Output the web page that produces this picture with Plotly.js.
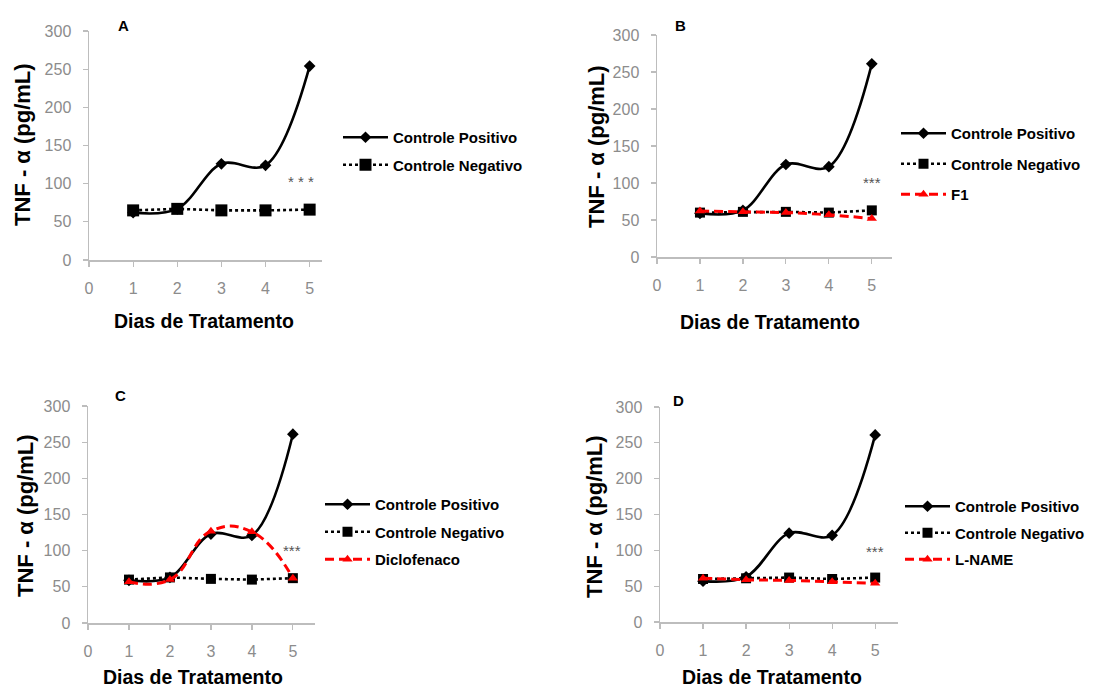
<!DOCTYPE html>
<html>
<head>
<meta charset="utf-8">
<script src="https://cdn.plot.ly/plotly-3.0.1.min.js"></script>
<style>
  html, body { margin: 0; padding: 0; background: #fff; }
  #chart { width: 1115px; height: 689px; }
</style>
</head>
<body>
<div id="chart"></div>
<script>
// TNF-alpha (pg/mL) over treatment days, four panels
const dias = [1, 2, 3, 4, 5];
const xTicks = [0, 1, 2, 3, 4, 5];
const yTicks = [0, 50, 100, 150, 200, 250, 300];

const positivoA = [62, 67, 126, 124, 254];
const negativoA = [65, 67, 65, 65, 66];

const positivoB = [59, 63, 125, 122, 261];
const negativoB = [60, 61, 61, 60, 63];
const f1 = [62, 61, 60, 57, 52];

const positivoC = [59, 63, 123, 121, 261];
const negativoC = [60, 63, 61, 60, 62];
const diclofenaco = [57, 60, 127, 126, 62];

const positivoD = [57, 63, 124, 121, 261];
const negativoD = [60, 61, 62, 60, 62];
const lname = [61, 59, 58, 56, 54];

const panelLetters = ['A', 'B', 'C', 'D'];
const yTitle = 'TNF - \u03b1 (pg/mL)';
const xTitle = 'Dias de Tratamento';
const signif = ['* * *', '***', '***', '***'];

const W = 1115, H = 689;
const px = v => v / W;
const py = v => 1 - v / H;

const tickFont = { family: 'Liberation Sans, Arial, sans-serif', size: 16, color: '#8c8c8c' };
const legendFont = { family: 'Liberation Sans, Arial, sans-serif', size: 15, color: '#000', weight: 'bold' };
const xTitleFont = { family: 'Liberation Sans, Arial, sans-serif', size: 19.5, color: '#000', weight: 'bold' };
const yTitleFont = { family: 'Liberation Sans, Arial, sans-serif', size: 22, color: '#000', weight: 'bold' };

function positivo(y, i) {
  return {
    x: dias, y: y, name: 'Controle Positivo', type: 'scatter', mode: 'lines+markers',
    line: { color: '#000', width: 2.6, shape: 'spline', smoothing: 1 },
    marker: { symbol: 'diamond', size: 9, color: '#000' },
    xaxis: 'x' + (i ? i + 1 : ''), yaxis: 'y' + (i ? i + 1 : ''),
    legend: 'legend' + (i ? i + 1 : ''), legendgroup: 'p' + i
  };
}
function negativo(y, i, msize) {
  return {
    x: dias, y: y, name: 'Controle Negativo', type: 'scatter', mode: 'lines+markers',
    line: { color: '#000', width: 2.6, dash: 'dot' },
    marker: { symbol: 'square', size: msize, color: '#000' },
    xaxis: 'x' + (i ? i + 1 : ''), yaxis: 'y' + (i ? i + 1 : ''),
    legend: 'legend' + (i ? i + 1 : ''), legendgroup: 'n' + i
  };
}
function tratamento(y, i, name, smooth) {
  return {
    x: dias, y: y, name: name, type: 'scatter', mode: 'lines+markers',
    line: { color: '#ff0000', width: 3, dash: '9px,5px', shape: 'spline', smoothing: smooth },
    marker: { symbol: 'triangle-up', size: 9, color: '#ff0000' },
    xaxis: 'x' + (i ? i + 1 : ''), yaxis: 'y' + (i ? i + 1 : ''),
    legend: 'legend' + (i ? i + 1 : ''), legendgroup: 't' + i
  };
}

const data = [
  positivo(positivoA, 0), negativo(negativoA, 0, 12),
  positivo(positivoB, 1), negativo(negativoB, 1, 10), tratamento(f1, 1, 'F1', 1),
  positivo(positivoC, 2), negativo(negativoC, 2, 10), tratamento(diclofenaco, 2, 'Diclofenaco', 1.3),
  positivo(positivoD, 3), negativo(negativoD, 3, 10), tratamento(lname, 3, 'L-NAME', 1)
];

// panel geometry in pixels: x of day 0, x of right end (days), y of 0 and 300
const panels = [
  { x0: 89, x1: 322, xmax: 5.28, y0: 260, y1: 31 },
  { x0: 657, x1: 892, xmax: 5.47, y0: 257, y1: 35 },
  { x0: 88, x1: 315, xmax: 5.54, y0: 623, y1: 406 },
  { x0: 660, x1: 898, xmax: 5.53, y0: 622, y1: 407 }
];

function xAxis(p, i) {
  return {
    domain: [px(p.x0), px(p.x1)], range: [0, p.xmax], anchor: 'y' + (i ? i + 1 : ''),
    tickvals: xTicks, ticks: 'outside', ticklen: 5, tickwidth: 1.2, tickcolor: '#bdbdbd',
    showline: true, linecolor: '#bdbdbd', linewidth: 1.5, showgrid: false, zeroline: false,
    tickfont: tickFont, ticklabelstandoff: 8, fixedrange: true
  };
}
function yAxis(p, i) {
  return {
    domain: [py(p.y0), py(p.y1)], range: [0, 300], anchor: 'x' + (i ? i + 1 : ''),
    tickvals: yTicks, ticks: 'outside', ticklen: 5, tickwidth: 1.2, tickcolor: '#bdbdbd',
    showline: true, linecolor: '#bdbdbd', linewidth: 1.5, showgrid: false, zeroline: false,
    tickfont: tickFont, ticklabelstandoff: 8, fixedrange: true
  };
}

const layout = {
  width: W, height: H, margin: { l: 0, r: 0, t: 0, b: 0 },
  paper_bgcolor: '#fff', plot_bgcolor: '#fff', showlegend: true,
  annotations: [], font: { family: 'Liberation Sans, Arial, sans-serif' }
};
panels.forEach((p, i) => {
  const s = i ? i + 1 : '';
  layout['xaxis' + s] = xAxis(p, i);
  layout['yaxis' + s] = yAxis(p, i);
});

// legends
const legendPos = [
  { x: 338, y: 121, gap: 5 }, { x: 896, y: 117, gap: 8 },
  { x: 320, y: 488, gap: 5 }, { x: 900, y: 490, gap: 4 }
];
legendPos.forEach((l, i) => {
  layout['legend' + (i ? i + 1 : '')] = {
    x: px(l.x), y: py(l.y), xanchor: 'left', yanchor: 'top',
    bgcolor: 'rgba(0,0,0,0)', font: legendFont, traceorder: 'grouped',
    tracegroupgap: l.gap, itemwidth: 45
  };
});

// axis titles, panel letters, significance marks
const xTitlePos = [[204, 321], [770, 322], [193, 677], [772, 677]];
const yTitlePos = [[22, 145], [596, 147], [25, 516], [594, 517]];
const letterPos = [[123, 25], [680, 25], [120, 395], [678, 400]];
const starPos = [[4.8, 103], [5, 101], [4.97, 100], [5, 98]];

panels.forEach((p, i) => {
  const s = i ? i + 1 : '';
  layout.annotations.push({
    xref: 'paper', yref: 'paper', x: px(xTitlePos[i][0]), y: py(xTitlePos[i][1]),
    xanchor: 'center', yanchor: 'middle', showarrow: false, text: xTitle, font: xTitleFont
  });
  layout.annotations.push({
    xref: 'paper', yref: 'paper', x: px(yTitlePos[i][0]), y: py(yTitlePos[i][1]),
    xanchor: 'center', yanchor: 'middle', showarrow: false, text: yTitle, textangle: -90, font: yTitleFont
  });
  layout.annotations.push({
    xref: 'paper', yref: 'paper', x: px(letterPos[i][0]), y: py(letterPos[i][1]),
    xanchor: 'center', yanchor: 'middle', showarrow: false, text: panelLetters[i],
    font: { family: 'Liberation Sans, Arial, sans-serif', size: 15, color: '#000', weight: 'bold' }
  });
  layout.annotations.push({
    xref: 'x' + s, yref: 'y' + s, x: starPos[i][0], y: starPos[i][1],
    xanchor: 'center', yanchor: 'middle', showarrow: false, text: signif[i],
    font: { family: 'Liberation Sans, Arial, sans-serif', size: 15, color: '#555' }
  });
});

Plotly.newPlot('chart', data, layout, { staticPlot: true, displayModeBar: false });
</script>
</body>
</html>
